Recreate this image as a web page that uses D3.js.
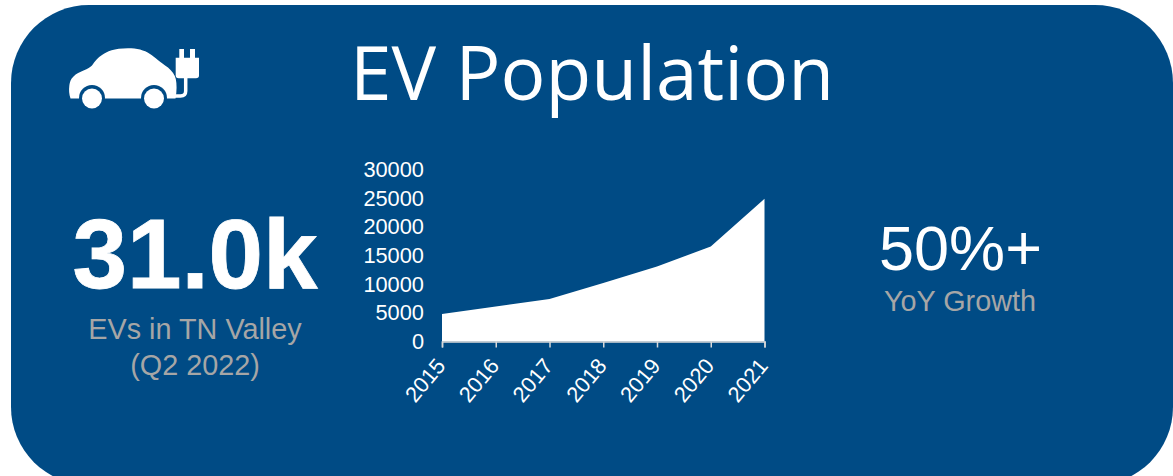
<!DOCTYPE html>
<html><head><meta charset="utf-8">
<style>html,body{margin:0;padding:0;background:#fff;overflow:hidden}svg{display:block}text{font-family:"Liberation Sans",Arial,sans-serif}</style>
<script src="https://cdn.jsdelivr.net/npm/d3@7/dist/d3.min.js"></script></head>
<body><svg id="c" width="1173" height="476"></svg>
<script>
const years = [2015,2016,2017,2018,2019,2020,2021];
const population = [4780,6100,7400,10200,13080,16570,24900];
const yTicks = [0,5000,10000,15000,20000,25000,30000];
const title = "EV Population";
const bigNumber = "31.0k";
const bigLabels = ["EVs in TN Valley","(Q2 2022)"];
const growthNumber = "50%+";
const growthLabel = "YoY Growth";

const navy="#004b85", grey="#a6a6a6";
const svg=d3.select("#c");
svg.append("rect").attr("x",11).attr("y",5).attr("width",1162).attr("height",480).attr("rx",78).attr("ry",78).attr("fill",navy);

// icon
const ic=svg.append("g");
ic.append("path").attr("fill","#fff").attr("d","M70.5 98.5C69 94 68.8 90 69.3 86C70 81 71 79 73.5 76.5C76 73.5 80 72 83.5 70.5C88 68.5 90 67.5 92 65.5C95 61 98 57.5 102 55C107 51.5 114 48.3 128 48.3C137 48.3 144 50 150 54C155 57.5 160 62 168 67.5C172 71 175 75 175.8 79C176.8 84 177 91 175.5 98.5Z");
[92,154].forEach(cx=>{
 ic.append("circle").attr("cx",cx).attr("cy",98).attr("r",13).attr("fill",navy);
 ic.append("circle").attr("cx",cx).attr("cy",98.5).attr("r",10).attr("fill","#fff");
});
ic.append("path").attr("fill","none").attr("stroke","#fff").attr("stroke-width",3.5).attr("d","M185.7 76V91Q185.7 96 180.5 96H175");
ic.append("path").attr("fill","#fff").attr("d","M175.7 57.7H179.3V49H184V57.7H190V49H195V57.7H199V75.5Q199 78.3 196 78.3H178.7Q175.7 78.3 175.7 75.5Z");

svg.append("text").attr("x",592).attr("y",100).attr("text-anchor","middle").attr("font-size",74.8).attr("fill","#fff").style("font-family","'Open Sans'").text(title);
svg.append("text").attr("x",195).attr("y",288).attr("text-anchor","middle").attr("font-size",98).attr("font-weight","bold").attr("fill","#fff").attr("stroke","#fff").attr("stroke-width",0.8).text(bigNumber);
bigLabels.forEach((t,i)=>svg.append("text").attr("x",195).attr("y",339+i*35.5).attr("text-anchor","middle").attr("font-size",28.8).attr("fill",grey).text(t));
svg.append("text").attr("x",960.5).attr("y",270).attr("text-anchor","middle").attr("font-size",63).attr("fill","#fff").text(growthNumber);
svg.append("text").attr("x",960).attr("y",311).attr("text-anchor","middle").attr("font-size",28.8).attr("fill",grey).text(growthLabel);

// chart
const x=d3.scalePoint().domain(years).range([442,764.5]);
const y=d3.scaleLinear().domain([0,30000]).range([341.5,169.5]);
svg.append("path").datum(years.map((d,i)=>[d,population[i]])).attr("fill","#fff")
 .attr("d",d3.area().x(d=>x(d[0])).y0(y(0)).y1(d=>y(d[1])));
const gy=svg.append("g").attr("transform","translate(442,0)").call(d3.axisLeft(y).tickValues(yTicks).tickFormat(d3.format("d")).tickSize(0).tickPadding(18));
gy.select(".domain").remove();
gy.selectAll("text").attr("font-size",21.8).attr("fill","#fff").style("font-family","'Liberation Sans'");
const gx=svg.append("g").attr("transform","translate(0,341.5)").call(d3.axisBottom(x).tickSizeOuter(0).tickSize(6).tickFormat(d3.format("d")));
gx.select(".domain").attr("stroke","#d9d9d9").attr("stroke-width",1.5);
gx.selectAll("line").attr("stroke","#d9d9d9").attr("stroke-width",1.5);
gx.selectAll("text").attr("font-size",21.8).attr("fill","#fff").style("font-family","'Liberation Sans'")
 .attr("text-anchor","end").attr("dy",0).attr("y",0)
 .attr("transform","translate(4,25) rotate(-50)");
</script></body></html>
